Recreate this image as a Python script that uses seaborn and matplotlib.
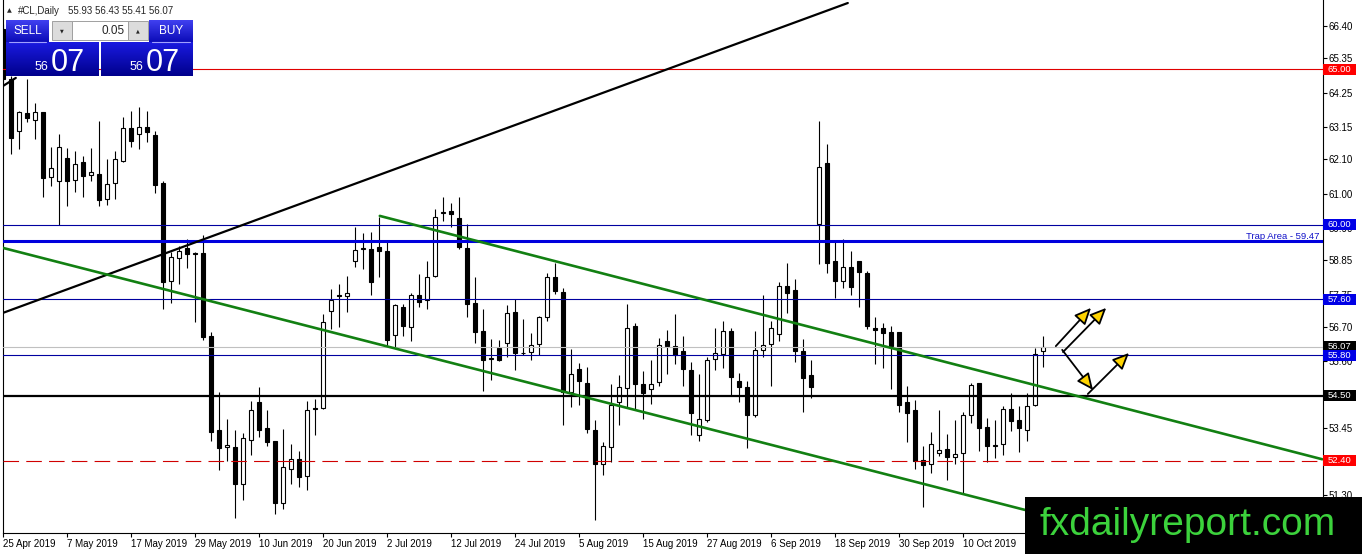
import matplotlib.pyplot as plt
import numpy as np
import pandas as pd
import seaborn as sns
from matplotlib.colors import LinearSegmentedColormap
from matplotlib.patches import FancyArrowPatch, Rectangle

OUT_FILE = "out.png"
FIG_W, FIG_H = 1362, 554

# Bar -1 is 25 Apr 2019 (cut in half by the left edge), the last bar is 24 Oct 2019.
FIRST_BAR = -1
OPENS = [
    66.30,
    64.68, 63.00, 63.58, 63.37, 63.61, 61.54, 61.39, 62.14, 61.44, 62.00,
    61.60, 61.63, 60.83, 61.33, 62.06, 63.11, 62.92, 63.15, 62.89, 61.33,
    58.20, 58.93, 59.24, 59.08, 59.09, 56.43, 53.40, 52.84, 52.84, 51.65,
    53.08, 54.29, 53.44, 53.03, 51.04, 52.15, 52.47, 51.92, 54.11, 54.10,
    57.21, 57.74, 57.70, 58.82, 59.23, 59.20, 59.27, 59.14, 56.46, 57.36,
    56.70, 57.75, 57.56, 58.36, 60.38, 60.45, 60.22, 59.25, 57.47, 56.57,
    55.66, 56.02, 56.19, 57.19, 55.86, 55.89, 56.16, 57.02, 58.33, 57.82,
    54.61, 55.36, 54.91, 53.40, 52.31, 52.84, 54.29, 54.73, 56.73, 54.88,
    54.72, 54.94, 56.25, 56.08, 55.92, 55.33, 53.22, 53.70, 55.69, 55.85,
    56.59, 54.96, 54.79, 53.86, 55.95, 56.17, 56.49, 58.04, 57.88, 55.93,
    55.15, 60.02, 61.97, 58.82, 58.20, 58.63, 58.84, 58.43, 56.68, 56.68,
    56.54, 56.54, 54.29, 54.02, 52.43, 52.29, 52.65, 52.79, 52.52, 52.65,
    53.86, 54.90, 53.50, 52.88, 52.95, 54.08, 53.70, 53.40, 54.21, 55.93,
]
HIGHS = [
    66.45,
    64.79, 63.67, 64.68, 63.90, 63.63, 62.51, 62.92, 62.47, 62.36, 62.22,
    62.47, 63.32, 62.10, 62.36, 63.47, 63.64, 63.79, 63.67, 63.00, 61.41,
    59.11, 59.32, 59.54, 59.11, 59.68, 56.54, 54.61, 53.75, 53.38, 53.29,
    54.34, 54.79, 54.02, 53.03, 53.43, 52.95, 52.71, 54.34, 54.40, 57.11,
    57.93, 58.09, 58.36, 59.91, 59.72, 59.75, 60.26, 59.43, 57.43, 57.43,
    57.79, 58.41, 58.84, 60.50, 60.90, 60.68, 60.90, 60.02, 58.31, 57.29,
    56.33, 56.28, 57.40, 57.61, 56.97, 56.50, 57.07, 58.44, 58.76, 57.96,
    56.00, 55.54, 55.41, 53.72, 53.00, 54.87, 55.15, 57.43, 56.83, 55.28,
    55.63, 56.36, 56.62, 57.11, 56.43, 55.57, 55.20, 55.73, 56.68, 56.89,
    56.68, 55.22, 54.98, 56.59, 57.72, 56.89, 58.14, 58.76, 58.25, 56.33,
    55.65, 63.34, 62.59, 59.43, 59.54, 59.16, 58.84, 58.52, 57.02, 56.83,
    56.73, 56.54, 54.82, 54.36, 52.89, 53.32, 54.02, 53.25, 53.70, 53.97,
    54.90, 54.90, 53.78, 53.70, 54.15, 54.58, 54.15, 54.58, 56.04, 56.43,
]
LOWS = [
    64.50,
    62.28, 62.43, 63.29, 62.76, 60.90, 61.25, 60.00, 60.61, 61.04, 60.88,
    61.39, 60.59, 60.64, 60.83, 62.00, 62.49, 62.43, 62.65, 61.01, 57.29,
    57.47, 58.09, 58.61, 56.86, 56.30, 53.05, 52.09, 52.41, 50.57, 51.15,
    52.60, 53.16, 52.87, 50.69, 50.86, 51.64, 51.55, 51.45, 53.22, 54.08,
    56.65, 56.70, 57.18, 58.63, 58.57, 57.72, 58.31, 56.11, 56.06, 56.43,
    56.25, 57.34, 57.29, 58.33, 60.11, 59.91, 59.23, 57.02, 56.19, 54.66,
    54.99, 55.60, 55.73, 55.31, 55.79, 55.63, 55.79, 56.91, 57.77, 53.54,
    54.13, 54.18, 53.28, 50.51, 51.93, 52.36, 53.54, 54.13, 54.02, 53.75,
    54.24, 54.82, 55.18, 55.52, 54.82, 53.22, 53.05, 53.65, 55.33, 55.39,
    54.47, 54.29, 52.82, 53.80, 55.73, 54.82, 56.27, 57.14, 55.58, 53.97,
    54.43, 58.74, 58.44, 57.64, 57.96, 57.72, 57.34, 56.65, 55.52, 55.39,
    54.72, 53.97, 53.00, 52.15, 50.93, 52.00, 52.54, 51.77, 52.31, 51.34,
    53.62, 52.73, 52.36, 52.50, 52.60, 53.35, 52.68, 53.05, 54.15, 55.41,
]
CLOSES = [
    64.70,
    62.79, 63.61, 63.43, 63.61, 61.50, 61.82, 62.51, 61.41, 61.95, 61.57,
    61.70, 60.79, 61.31, 62.11, 63.11, 62.68, 63.15, 62.97, 61.29, 58.14,
    58.97, 59.16, 59.04, 59.04, 56.38, 53.32, 52.82, 52.92, 51.67, 53.14,
    54.02, 53.40, 53.01, 51.04, 52.20, 52.47, 51.88, 54.04, 54.06, 56.86,
    57.56, 57.71, 57.81, 59.19, 59.25, 58.14, 59.14, 56.28, 57.40, 56.75,
    57.72, 57.50, 58.31, 60.26, 60.41, 60.34, 59.27, 57.45, 56.54, 55.63,
    55.70, 55.65, 57.15, 55.87, 55.88, 56.14, 57.02, 58.33, 57.86, 54.61,
    55.18, 54.96, 53.43, 52.29, 52.87, 54.18, 54.76, 56.68, 54.88, 54.58,
    54.88, 56.14, 56.11, 55.79, 55.36, 53.94, 53.76, 55.65, 55.87, 56.59,
    55.09, 54.76, 53.89, 55.95, 56.14, 56.68, 58.04, 57.79, 55.93, 55.07,
    54.77, 61.86, 58.76, 58.20, 58.63, 57.99, 58.47, 56.73, 56.61, 56.51,
    56.11, 54.21, 53.94, 52.41, 52.25, 52.95, 52.75, 52.52, 52.63, 53.86,
    54.85, 53.44, 52.89, 52.90, 54.08, 53.68, 53.44, 54.15, 55.85, 56.07,
]

# the 22 Oct label sits under the watermark in the original, so it is left out
DATE_TICK_BARS = list(range(-1, 120, 8))
DATE_TICK_LABELS = [
    "25 Apr 2019", "7 May 2019", "17 May 2019", "29 May 2019", "10 Jun 2019",
    "20 Jun 2019", "2 Jul 2019", "12 Jul 2019", "24 Jul 2019", "5 Aug 2019",
    "15 Aug 2019", "27 Aug 2019", "6 Sep 2019", "18 Sep 2019", "30 Sep 2019",
    "10 Oct 2019",
]
PRICE_TICKS = [66.40, 65.35, 64.25, 63.15, 62.10, 61.00, 59.90, 58.85,
               57.75, 56.70, 55.60, 54.50, 53.45, 52.35, 51.30]

# horizontal levels drawn on the chart
LEVEL_PRICES = [65.00, 60.00, 59.47, 57.60, 56.07, 55.80, 54.50, 52.40]
LEVEL_COLORS = ["#e00000", "#0000a0", "#0000dd", "#0000a0", "#c0c0c0", "#0000a0", "black", "#d00000"]
LEVEL_WIDTHS = [0.8, 0.8, 2.2, 0.8, 0.8, 0.8, 1.6, 0.8]
LEVEL_DASHED = [False, False, False, False, False, False, False, True]

# price tags on the right axis
TAG_PRICES = [65.00, 60.00, 57.60, 56.07, 55.80, 54.50, 52.40]
TAG_COLORS = ["#ff0000", "#0000e6", "#0000e6", "black", "#0000e6", "black", "#ff0000"]

TRAP_LABEL = "Trap Area - 59.47"
TRAP_PRICE = 59.47

# trend lines as (bar, price) anchor pairs
TREND_BARS = {
    "black_long": [-1, 104.6],
    "black_short": [-1, 0.6],
    "green_low": [-1, 126.75],
    "green_high": [46.1, 163.9],
}
TREND_PRICES = {
    "black_long": [57.16, 67.13],
    "black_short": [64.46, 64.72],
    "green_low": [59.25, 50.82],
    "green_high": [60.28, 52.45],
}

# scenario arrows: start and end in (bar, price)
ARROW_START_BARS = [130.6, 131.5, 131.4, 134.6]
ARROW_START_PRICES = [56.09, 55.90, 55.97, 54.55]
ARROW_END_BARS = [135.0, 136.9, 135.25, 139.75]
ARROW_END_PRICES = [57.32, 57.32, 54.68, 55.87]

HEADER_SYMBOL = "#CL,Daily"
HEADER_QUOTE = "55.93 56.43 55.41 56.07"
LOT_SIZE = "0.05"
PRICE_BIG = "56"
PRICE_PIPS = "07"
WATERMARK = "fxdailyreport.com"

# chart frame in pixels and the matching axis limits
AX_LEFT_PX, AX_RIGHT_PX, AX_BOTTOM_PX = 3, 1322.5, 532.7
Y_TOP, Y_BOTTOM = 67.227, 50.087
X_LEFT = -1
X_RIGHT = X_LEFT + (AX_RIGHT_PX - AX_LEFT_PX) / 8

sns.set_theme(style="white")
plt.rcParams["font.family"] = ["Liberation Sans", "DejaVu Sans"]


def price_to_px(price):
    return (Y_TOP - price) / (Y_TOP - Y_BOTTOM) * AX_BOTTOM_PX


def build_candles() -> pd.DataFrame:
    candles = pd.DataFrame({"open": OPENS, "high": HIGHS, "low": LOWS, "close": CLOSES})
    candles["bar"] = np.arange(FIRST_BAR, FIRST_BAR + len(candles))
    candles["up"] = candles["close"] >= candles["open"]
    return candles


def draw_candles(ax, candles):
    ax.vlines(candles["bar"], candles["low"], candles["high"], color="black", lw=0.8, zorder=2)
    bottom = candles[["open", "close"]].min(axis=1)
    height = (candles["close"] - candles["open"]).abs().clip(lower=0.01)
    colors = np.where(candles["up"], "white", "black")
    ax.bar(candles["bar"], height, bottom=bottom, width=0.6, color=colors,
           edgecolor="black", linewidth=0.8, zorder=3)


def draw_levels(ax):
    for price, color, width, dashed in zip(LEVEL_PRICES, LEVEL_COLORS, LEVEL_WIDTHS, LEVEL_DASHED):
        line = ax.axhline(price, color=color, lw=width, zorder=4)
        if dashed:
            line.set_dashes((14, 6.5))
    for name in TREND_BARS:
        color = "#128012" if name.startswith("green") else "black"
        width = 1.9 if name.startswith("green") else 1.6
        sns.lineplot(x=TREND_BARS[name], y=TREND_PRICES[name], ax=ax, color=color,
                     linewidth=width, zorder=5)
    for x0, y0, x1, y1 in zip(ARROW_START_BARS, ARROW_START_PRICES, ARROW_END_BARS, ARROW_END_PRICES):
        ax.add_patch(FancyArrowPatch((x0, y0), (x1, y1), arrowstyle="-|>,head_length=10,head_width=4.5",
                                     mutation_scale=1, lw=1.3, edgecolor="black",
                                     facecolor="#ffd400", shrinkA=0, shrinkB=0, zorder=6))


def gradient_box(ov, x, y, w, h, top, bottom):
    cmap = LinearSegmentedColormap.from_list("box", [top, bottom])
    ov.imshow(np.linspace(0, 1, 40).reshape(-1, 1), cmap=cmap, aspect="auto",
              extent=(x, x + w, y + h, y), zorder=2)


def draw_overlay(fig):
    ov = fig.add_axes([0, 0, 1, 1])
    ov.set_zorder(10)
    ov.axis("off")

    # header
    ov.text(7, 11, "\u25b2", fontsize=4.5, va="center", family=["DejaVu Sans"])
    ov.text(18, 11, HEADER_SYMBOL, fontsize=7, va="center")
    ov.text(68, 11, HEADER_QUOTE, fontsize=7, va="center")

    # one-click trading panel
    gradient_box(ov, 6, 20, 43, 22, "#4040f0", "#0c0cb8")
    gradient_box(ov, 149, 20, 44, 22, "#4040f0", "#0c0cb8")
    gradient_box(ov, 6, 42, 93, 34, "#1a1ae0", "#00008c")
    gradient_box(ov, 101, 42, 92, 34, "#1a1ae0", "#00008c")
    ov.plot([9, 46], [41.5, 41.5], color="#a0a0ff", lw=0.8, zorder=3)
    ov.plot([152, 190], [41.5, 41.5], color="#a0a0ff", lw=0.8, zorder=3)
    for x0, w, fill in [(52, 20, "#dcdcdc"), (72, 56, "white"), (128, 20, "#dcdcdc")]:
        ov.add_patch(Rectangle((x0, 21), w, 19, facecolor=fill, edgecolor="#a0a0a0", lw=0.7, zorder=2))
    ov.text(62, 30.5, "\u25bc", fontsize=3.5, ha="center", va="center", family=["DejaVu Sans"], zorder=3)
    ov.text(138, 30.5, "\u25b2", fontsize=3.5, ha="center", va="center", family=["DejaVu Sans"], zorder=3)
    ov.text(125, 31, LOT_SIZE, fontsize=8.5, ha="right", va="center", zorder=3)
    ov.text(27.5, 31, "SELL", fontsize=8.5, color="white", ha="center", va="center", zorder=3)
    ov.text(171, 31, "BUY", fontsize=8.5, color="white", ha="center", va="center", zorder=3)
    for right in (48, 143):
        ov.text(right, 70, PRICE_BIG, fontsize=9, color="white", ha="right", va="baseline", zorder=3)
        ov.text(right + 3, 71, PRICE_PIPS, fontsize=22, color="white", ha="left", va="baseline", zorder=3)

    # trap area caption and price tags on the axis
    ov.text(1320, price_to_px(TRAP_PRICE) - 2, TRAP_LABEL, fontsize=6.8, color="#1010c8",
            ha="right", va="baseline")
    for price, color in zip(TAG_PRICES, TAG_COLORS):
        y = price_to_px(price)
        ov.add_patch(Rectangle((1323, y - 5.5), 33, 11, facecolor=color, edgecolor="none", zorder=4))
        ov.text(1339.5, y, f"{price:.2f}", fontsize=6.8, color="white", ha="center", va="center", zorder=5)

    # watermark
    ov.add_patch(Rectangle((1025, 497), FIG_W - 1025, FIG_H - 497, facecolor="black",
                           edgecolor="none", zorder=6))
    ov.text(1040, 535, WATERMARK, fontsize=28, color="#3cd23c", ha="left", va="baseline", zorder=7)

    ov.set_xlim(0, FIG_W)
    ov.set_ylim(FIG_H, 0)


def main():
    candles = build_candles()
    fig = plt.figure(figsize=(FIG_W / 100, FIG_H / 100), dpi=100)
    fig.patch.set_facecolor("white")
    ax = fig.add_axes([AX_LEFT_PX / FIG_W, (FIG_H - AX_BOTTOM_PX) / FIG_H,
                       (AX_RIGHT_PX - AX_LEFT_PX) / FIG_W, AX_BOTTOM_PX / FIG_H])
    ax.set_facecolor("white")

    draw_candles(ax, candles)
    draw_levels(ax)

    ax.set_xlim(X_LEFT, X_RIGHT)
    ax.set_ylim(Y_BOTTOM, Y_TOP)
    ax.yaxis.tick_right()
    ax.set_yticks(PRICE_TICKS)
    ax.set_yticklabels([f"{p:.2f}" for p in PRICE_TICKS])
    ax.set_xticks(DATE_TICK_BARS)
    ax.set_xticklabels(DATE_TICK_LABELS, ha="left")
    ax.tick_params(axis="both", direction="out", length=3, width=0.8, colors="black",
                   labelsize=7, pad=1.5)
    ax.tick_params(axis="x", bottom=True)
    ax.tick_params(axis="y", right=True, left=False)
    ax.set_xlabel("")
    ax.set_ylabel("")
    ax.grid(False)
    for side, spine in ax.spines.items():
        spine.set_visible(side != "top")
        spine.set_color("black")
        spine.set_linewidth(0.8)

    draw_overlay(fig)
    fig.savefig(OUT_FILE, dpi=100)
    plt.close(fig)


if __name__ == "__main__":
    main()
